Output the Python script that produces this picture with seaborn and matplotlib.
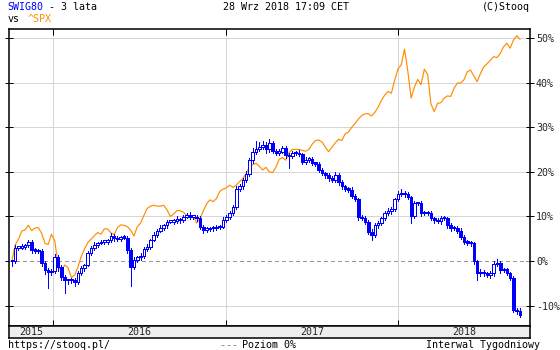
import matplotlib
matplotlib.use("Agg")
import numpy as np
import pandas as pd
import seaborn as sns
import matplotlib.pyplot as plt
from matplotlib.lines import Line2D

# weekly data, % change from first week
start = "2015-10-05"
swig_close = [0.0, 3.0, 3.0, 3.2, 3.5, 4.3, 2.4, 2.3, 2.2, -0.5,
              -2.0, -2.5, -2.3, 1.0, -1.4, -3.6, -4.3, -4.3, -4.3, -4.7,
              -2.7, -1.6, -0.9, 1.8, 2.9, 3.6, 4.0, 4.3, 4.3, 4.7,
              5.7, 5.1, 4.9, 5.4, 5.2, 2.5, -1.4, 0.2, 0.9, 1.2,
              2.7, 3.2, 4.7, 5.8, 6.8, 7.5, 8.0, 8.8, 8.8, 9.0,
              9.4, 9.2, 9.9, 10.3, 9.9, 9.9, 9.6, 7.7, 7.0, 7.2,
              7.4, 7.4, 7.6, 7.7, 9.2, 9.9, 10.8, 12.1, 16.1, 16.7,
              18.2, 19.5, 22.6, 24.5, 25.0, 25.6, 26.0, 25.0, 26.5, 24.7,
              24.3, 24.5, 25.3, 23.8, 23.5, 24.2, 24.3, 24.0, 22.3, 22.7,
              22.9, 22.0, 21.8, 20.4, 19.7, 19.3, 18.5, 18.2, 19.3, 17.6,
              16.7, 16.1, 16.0, 14.6, 13.8, 9.9, 9.6, 8.8, 6.6, 5.8,
              8.1, 8.5, 9.6, 10.7, 11.2, 11.6, 13.8, 15.0, 15.3, 15.0,
              14.3, 10.1, 12.9, 12.9, 10.7, 10.8, 10.7, 9.6, 9.2, 8.9,
              9.6, 9.6, 8.1, 7.3, 7.5, 6.8, 5.4, 4.3, 4.1, 4.0,
              -0.1, -2.8, -2.4, -2.8, -3.2, -2.8, -0.7, -0.4, -2.0, -1.9,
              -2.8, -3.7, -11.0, -11.2, -12.1]
wick_up = [0.3, 0.6, 0.4, 0.5, 0.3, 0.5, 0.4, 0.6, 0.3, 0.4,
           0.5, 0.4, 0.6, 0.5, 0.3, 0.4, 0.5, 0.3, 0.6, 0.4,
           0.5, 0.4, 0.3, 0.5, 0.4, 0.6, 0.3, 0.5, 0.4, 0.3,
           0.6, 0.4, 0.5, 0.3, 0.4, 0.5, 0.4, 0.6, 0.3, 0.5,
           0.4, 0.5, 0.3, 0.6, 0.4, 0.5, 0.3, 0.4, 0.5, 0.4,
           0.6, 0.3, 0.5, 0.4, 0.6, 0.4, 0.3, 0.5, 0.4, 0.5,
           0.3, 0.4, 0.5, 0.4, 0.6, 0.3, 0.5, 0.4, 0.6, 0.5,
           0.4, 0.6, 0.5, 0.8, 2.0, 1.0, 0.8, 0.6, 0.9, 0.5,
           0.4, 0.6, 0.5, 0.4, 0.3, 0.5, 0.4, 0.6, 0.3, 0.5,
           0.4, 0.5, 0.3, 0.4, 0.5, 0.3, 0.4, 0.5, 0.6, 0.4,
           0.5, 0.3, 0.4, 0.5, 0.4, 0.3, 0.5, 0.4, 0.3, 0.5,
           0.4, 0.5, 0.3, 0.4, 0.6, 0.5, 0.4, 0.6, 0.8, 0.5,
           0.4, 0.3, 0.5, 0.4, 0.5, 0.3, 0.4, 0.5, 0.3, 0.4,
           0.5, 0.4, 0.3, 0.5, 0.4, 0.3, 0.5, 0.4, 0.3, 0.4,
           0.3, 0.4, 0.5, 0.3, 0.4, 0.5, 0.6, 0.8, 0.4, 0.3,
           0.4, 0.3, 0.4, 0.5, 0.6]
wick_dn = [1.2, 0.5, 0.6, 0.4, 0.5, 0.3, 0.6, 0.4, 0.5, 0.7,
           1.0, 3.5, 0.6, 0.5, 0.8, 0.6, 2.9, 0.8, 0.6, 0.9,
           0.5, 0.4, 0.6, 0.3, 0.5, 0.4, 0.5, 0.3, 0.4, 0.5,
           0.4, 0.6, 0.5, 0.4, 0.3, 0.6, 4.1, 0.5, 0.4, 0.6,
           0.5, 0.4, 0.6, 0.3, 0.5, 0.4, 0.6, 0.5, 0.3, 0.4,
           0.5, 0.6, 0.4, 0.3, 0.5, 0.4, 0.6, 0.5, 0.8, 0.4,
           0.5, 0.6, 0.4, 0.5, 0.3, 0.4, 0.5, 0.6, 0.4, 0.5,
           0.6, 0.4, 0.5, 0.6, 0.5, 0.4, 0.6, 0.8, 0.5, 0.4,
           0.5, 0.6, 0.4, 0.8, 2.6, 0.5, 0.4, 0.5, 0.6, 0.5,
           0.4, 0.5, 0.6, 0.4, 0.5, 0.6, 0.5, 0.4, 0.5, 0.6,
           0.5, 0.4, 0.6, 0.5, 0.4, 0.6, 0.5, 0.4, 0.6, 1.1,
           0.5, 0.6, 0.4, 0.5, 0.4, 0.6, 0.5, 0.4, 0.5, 0.6,
           0.5, 1.6, 0.5, 0.4, 0.6, 0.5, 0.4, 0.5, 0.6, 0.4,
           0.5, 0.4, 0.6, 0.5, 0.4, 0.6, 0.5, 0.4, 0.5, 0.6,
           0.5, 1.5, 0.6, 0.5, 0.4, 0.6, 0.5, 0.4, 0.6, 0.5,
           0.4, 0.5, 0.4, 0.6, 0.5]
spx = [0.0, 3.6, 4.9, 6.7, 7.0, 8.0, 6.8, 7.4, 7.5, 6.2,
       4.0, 3.7, 6.0, 4.5, -1.0, -2.3, -0.9, -1.5, -3.7, -3.2,
       -1.4, 1.0, 2.7, 4.1, 4.9, 5.7, 6.4, 6.0, 7.2, 7.2,
       6.3, 5.9, 7.5, 8.1, 8.0, 7.7, 6.9, 5.6, 7.7, 8.5,
       10.2, 11.8, 12.3, 12.5, 12.3, 12.3, 12.5, 11.5, 10.0, 10.5,
       11.3, 11.3, 10.9, 10.2, 10.1, 10.1, 8.5, 9.5, 11.2, 12.8,
       13.7, 13.3, 14.0, 15.6, 16.1, 16.4, 17.0, 16.5, 17.0, 17.8,
       18.5, 19.6, 21.1, 21.6, 21.9, 21.2, 20.4, 21.0, 20.0, 19.8,
       21.0, 22.8, 23.2, 22.6, 24.3, 25.0, 25.0, 25.0, 24.8, 24.6,
       25.0, 26.2, 27.0, 27.1, 26.7, 25.5, 24.5, 25.5, 26.5, 27.3,
       27.0, 28.5, 28.9, 30.0, 30.8, 31.8, 32.6, 33.0, 33.0, 32.5,
       33.3, 34.5, 36.0, 37.2, 38.0, 37.6, 40.5, 43.0, 44.0, 47.5,
       42.5, 36.5, 39.0, 40.7, 39.5, 43.0, 41.8, 35.2, 33.5, 35.3,
       35.5, 36.5, 37.0, 36.9, 38.7, 39.9, 39.9, 40.6, 42.4, 42.8,
       41.5, 40.2, 42.0, 43.5, 44.2, 45.0, 45.8, 45.6, 46.5, 48.0,
       48.8, 47.7, 49.5, 50.5, 49.7]
years = ["2015", "2016", "2017", "2018"]
year_edges = ["2015-09-28", "2016-01-01", "2017-01-01", "2018-01-01", "2018-10-09"]
yticks = [-10, 0, 10, 20, 30, 40, 50]

BLUE = "#0000ff"
ORANGE = "#ff8c00"
GRID = "#d6d6d6"
PX = 0.72  # one pixel in points

weeks = pd.date_range(start, periods=len(swig_close), freq="7D")
df = pd.DataFrame({"date": weeks, "close": swig_close, "spx": spx,
                   "wu": wick_up, "wd": wick_dn})
df["open"] = df["close"].shift(1).fillna(df["close"])
df["top"] = df[["open", "close"]].max(axis=1)
df["bot"] = df[["open", "close"]].min(axis=1)
df["high"] = df["top"] + df["wu"]
df["low"] = df["bot"] - df["wd"]
df["up"] = df["close"] >= df["open"]

sns.set_theme(style="white")
plt.rcParams["font.family"] = ["DejaVu Sans Mono"]
FS = 7.2

W, H = 560, 350
L, R, T, B = 8.6, 530.4, 29, 325.7
fig = plt.figure(figsize=(5.6, 3.5), dpi=100)
ax = fig.add_axes([L / W, 1 - B / H, (R - L) / W, (B - T) / H])
edges = pd.to_datetime(year_edges)

# grid
for v in yticks:
    if v != 0:
        ax.axhline(v, color=GRID, lw=PX, zorder=0, antialiased=False)
for e in edges[1:-1]:
    ax.axvline(e, color=GRID, lw=PX, zorder=0, antialiased=False)
ax.axhline(0, color="#999999", lw=PX, ls=(0, (4, 4)), zorder=1, antialiased=False)

# SPX line
sns.lineplot(data=df, x="date", y="spx", color=ORANGE, lw=0.85, ax=ax, zorder=2)

# candles
ax.vlines(df["date"], df["low"], df["high"], color=BLUE, lw=PX, zorder=3,
          antialiased=False)
body = (df["top"] - df["bot"]).clip(lower=0.3)
ax.bar(df["date"], body, bottom=df["bot"], width=5.5,
       color=np.where(df["up"], "white", BLUE), edgecolor=BLUE, lw=PX, zorder=4,
       antialiased=False)

ax.set_xlim(edges[0], edges[-1])
ax.set_ylim(-14.5, 52.0)
ax.set_xlabel("")
ax.set_ylabel("")
ax.set_xticks(edges[1:-1])
ax.set_xticklabels([])
ax.set_yticks(yticks)
ax.set_yticklabels([f"{v}%" for v in yticks])
ax.tick_params(axis="x", direction="in", length=4, width=PX, top=True, bottom=True,
               color="black")
ax.tick_params(axis="y", direction="inout", length=6, width=PX, left=True, right=True,
               labelleft=False, labelright=True, labelsize=FS, pad=1, color="black")
for s in ax.spines.values():
    s.set_color("black")
    s.set_linewidth(1.1)

# year strip
ax2 = fig.add_axes([L / W, 1 - 337.5 / H, (R - L) / W, (337.5 - B) / H])
ax2.set_facecolor("#eeeeee")
ax2.set_xlim(edges[0], edges[-1])
ax2.set_ylim(0, 1)
ax2.set_xticks([])
ax2.set_yticks([])
for s in ax2.spines.values():
    s.set_color("black")
    s.set_linewidth(1.1)
for i, yr in enumerate(years):
    mid = edges[i] + (edges[i + 1] - edges[i]) / 2
    ax2.text(mid, 0.45, yr, ha="center", va="center", fontsize=FS)

def ftext(x, y, s, **kw):
    fig.text(x / W, 1 - y / H, s, va="center", fontsize=FS, **kw)

cw = 6.02
ftext(7.3, 7, "SWIG80", color=BLUE)
ftext(7.3 + 6 * cw, 7, " - 3 lata", color="black")
ftext(7.3, 18.5, "vs", color="black")
ftext(28, 18.5, "^SPX", color=ORANGE)
ftext(223, 7, "28 Wrz 2018 17:09 CET", color="black")
ftext(530, 7, "(C)Stooq", color="black", ha="right")
ftext(7.9, 344.5, "https://stooq.pl/", color="black")
fig.add_artist(Line2D([221 / W, 238 / W], [1 - 344.5 / H] * 2, color="#999999",
                      lw=PX, ls=(0, (3, 3))))
ftext(242, 344.5, "Poziom 0%", color="black")
ftext(540, 344.5, "Interwal Tygodniowy", color="black", ha="right")

fig.savefig("out.png", dpi=100)
